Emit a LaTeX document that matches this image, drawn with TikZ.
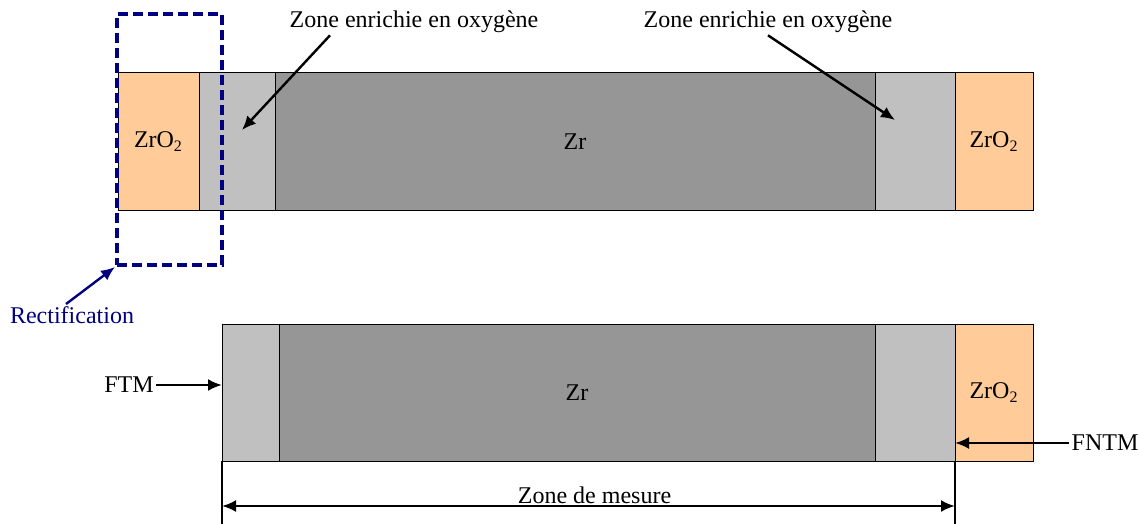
\documentclass[tikz,border=0pt]{standalone}
\usepackage{fontspec}
\setmainfont{Liberation Serif}
\usepackage{tikz}
\usetikzlibrary{arrows.meta, positioning}

\definecolor{oxide}{HTML}{FFCC99}
\definecolor{enriched}{HTML}{C0C0C0}
\definecolor{metal}{HTML}{969696}
\definecolor{rectblue}{HTML}{000080}

\begin{document}
\begin{tikzpicture}[
        x=0.5pt, y=-0.5pt,
        font=\fontsize{12pt}{14pt}\selectfont,
        >={Latex[length=7pt, width=6pt]},
        layer/.style={
            rectangle,
            draw,
            line width=0.5pt,
            inner sep=0pt,
            outer sep=0pt,
            minimum height=68.5pt
        },
        zro/.style={layer, fill=oxide},
        enrich/.style={layer, fill=enriched},
        zr/.style={layer, fill=metal},
        label/.style={inner sep=1pt},
        pointer/.style={->, line width=1.2pt},
        rectif/.style={
            rectangle,
            draw=rectblue,
            line width=2pt,
            dash pattern=on 5pt off 2.5pt,
            minimum width=52.5pt,
            minimum height=125.5pt,
            inner sep=0pt
        }
    ]
    \useasboundingbox (0,0) rectangle (1139,524);

    % Before rectification
    \node[zro, anchor=north west, minimum width=40.5pt] (zro2a) at (118,73) {ZrO\textsubscript{2}};
    \node[enrich, right=0pt of zro2a, minimum width=38pt] (oxa) {};
    \node[zr, right=0pt of oxa, minimum width=300pt] (zra) {Zr};
    \node[enrich, right=0pt of zra, minimum width=40pt] (oxb) {};
    \node[zro, right=0pt of oxb, minimum width=39pt] (zro2b) {ZrO\textsubscript{2}};

    % After rectification
    \node[enrich, anchor=north west, minimum width=28.5pt] (oxc) at (222,324) {};
    \node[zr, right=0pt of oxc, minimum width=298pt] (zrb) {Zr};
    \node[enrich, right=0pt of zrb, minimum width=40pt] (oxd) {};
    \node[zro, right=0pt of oxd, minimum width=39pt] (zro2c) {ZrO\textsubscript{2}};

    % Rectified part
    \node[rectif] (rbox) at (169.5,139.5) {};
    \node[label, text=rectblue] (rect) at (72,315) {Rectification};
    \draw[pointer, draw=rectblue, fill=rectblue] ([xshift=-3pt]rect.north) -- (rbox.south west);

    % Labels
    \node[label] (zea) at (414,22) {Zone enrichie en oxygène};
    \node[label] (zeb) at (768,22) {Zone enrichie en oxygène};
    \coordinate (ta) at (242,130);
    \coordinate (tb) at (895,120);
    \draw[pointer] ([xshift=-42pt]zea.south) -- (ta);
    \draw[pointer] (zeb.south) -- (tb);

    \node[label] (ftm) at (129,385) {FTM};
    \node[label] (fntm) at (1105,443) {FNTM};
    \draw[pointer] (ftm.east) -- (ftm.east -| oxc.west);
    \draw[pointer] (fntm.west) -- (fntm.west -| zro2c.west);

    % Measuring zone
    \coordinate (ma) at (222,506);
    \coordinate (mb) at (955,506);
    \draw[line width=0.7pt] (oxc.south west) -- ++(0,63);
    \draw[line width=0.7pt] (zro2c.south west) -- ++(0,63);
    \draw[<->, line width=1.2pt] (ma) -- (mb) node[midway, above=-3pt, xshift=3pt] {Zone de mesure};

\end{tikzpicture}
\end{document}
